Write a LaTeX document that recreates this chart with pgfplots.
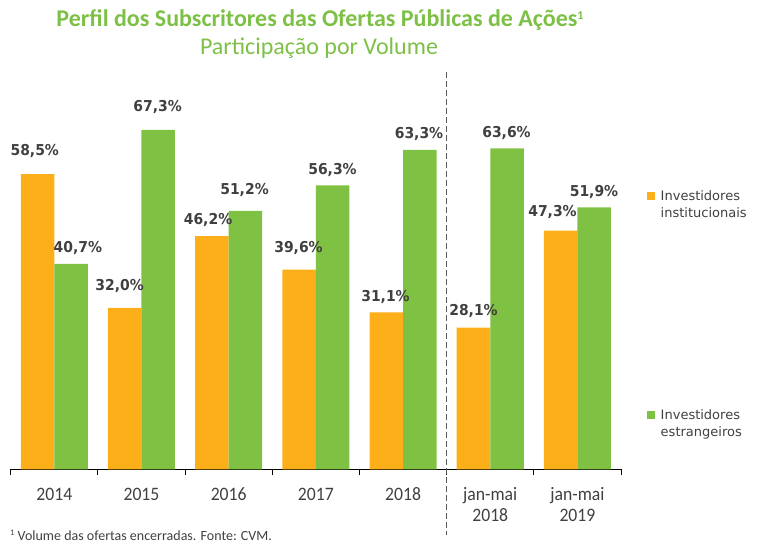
\documentclass[border=0pt]{standalone}
\usepackage{pgfplots}
\pgfplotsset{compat=1.18}
\usepackage{pgfplotstable}
\usepackage{fontspec}
\setmainfont{Carlito}
\newfontfamily\labf[FakeStretch=0.93]{DejaVu Sans}
\newfontfamily\tickf[FakeStretch=0.93]{Carlito}
\newfontfamily\legf{DejaVu Sans}
\definecolor{barorange}{RGB}{252,175,24}
\definecolor{bargreen}{RGB}{127,193,66}
\definecolor{titlegreen}{RGB}{125,192,70}
\definecolor{txtgray}{RGB}{64,64,64}
\definecolor{dashgray}{RGB}{89,89,89}

\pgfplotstableread{
x y xo yo
0 58.5 -2.8 19
1 32.0 -5.2 17
2 46.2 -3.9 11.3
3 39.6 -0.6 17
4 31.1 -0.8 11
5 28.1 0 11.6
6 47.3 -8.2 14.3
}\inst
\pgfplotstableread{
x y xo yo
0 40.7 6.8 11.7
1 67.3 -0.7 18.3
2 51.2 -0.9 16.7
3 56.3 -0.1 10.7
4 63.3 -0.8 11
5 63.6 -0.5 11.3
6 51.9 -0.2 11.3
}\estr

\begin{document}
\begin{tikzpicture}
\path[use as bounding box] (0,0) rectangle (779bp,549bp);
\begin{axis}[
  at={(10.7bp,79.7bp)}, anchor=south west,
  x=87.19bp, y=5.045bp,
  xmin=-0.5, xmax=6.5, ymin=0, ymax=75,
  enlargelimits=false, clip=false,
  axis y line=none, axis x line*=bottom,
  x axis line style={black, line width=0.8bp},
  ybar=0pt, bar width=33.5bp,
  xtick={0,...,6},
  xticklabels={\rule{0pt}{14bp}2014,\rule{0pt}{14bp}2015,\rule{0pt}{14bp}2016,\rule{0pt}{14bp}2017,\rule{0pt}{14bp}2018,\rule{0pt}{14bp}jan-mai\\2018,\rule{0pt}{14bp}jan-mai\\2019},
  xticklabel style={anchor=north, inner sep=0pt, outer sep=0pt, yshift=-17.4bp, align=center, font=\tickf\fontsize{19bp}{21bp}\selectfont, text=txtgray},
  major tick length=0pt,
  minor xtick={-0.5,0.5,...,6.5},
  minor tick length=5.5bp,
  tick align=outside,
  tick style={black, line width=0.8bp},
  legend image code/.code={\fill[#1] (0bp,-9.5bp) rectangle (8bp,-1.5bp);},
  legend style={at={(1.0426,0.7373)}, anchor=north west, draw=none, fill=none,
    inner sep=0pt, outer sep=0pt, row sep=192.6bp,
    font=\legf\fontsize{13bp}{17bp}\selectfont, text=txtgray,
    cells={anchor=north west, align=left},
    nodes={inner sep=0pt, text depth=},
    /tikz/every odd column/.append style={column sep=5.7bp}},
  nodes near coords={\pgfmathprintnumber[fixed, fixed zerofill, precision=1, use comma, assume math mode=true]{\pgfplotspointmeta}\%},
  nodes near coords style={font=\labf\bfseries\fontsize{15bp}{16bp}\selectfont, text=txtgray, inner sep=0pt, anchor=base, xshift=\xo bp, yshift=\yo bp},
  visualization depends on={\thisrow{xo}\as\xo},
  visualization depends on={\thisrow{yo}\as\yo},
]
\addplot[fill=barorange, draw=none] table[x=x, y=y] {\inst};
\addplot[fill=bargreen, draw=none] table[x=x, y=y] {\estr};
\legend{Investidores\\institucionais, Investidores\\estrangeiros}
\draw[dashgray, line width=1.5bp, dash pattern=on 6bp off 3bp] (axis cs:4.5,78.75) -- (axis cs:4.5,-13.02);
\end{axis}
\node[anchor=base, inner sep=0pt, text=titlegreen, font=\bfseries\fontsize{24bp}{28bp}\selectfont] at (320bp,522bp) {Perfil dos Subscritores das Ofertas Públicas de Ações\raisebox{7bp}{\fontsize{12bp}{12bp}\selectfont 1}};
\node[anchor=base, inner sep=0pt, text=titlegreen, font=\fontsize{24bp}{28bp}\selectfont] at (319bp,494bp) {Participação por Volume};
\node[anchor=base west, inner sep=0pt, text=txtgray, font=\fontsize{14bp}{16bp}\selectfont] at (10bp,9bp) {\raisebox{4.5bp}{\fontsize{8.5bp}{9bp}\selectfont 1}\ Volume das ofertas encerradas. Fonte: CVM.};
\end{tikzpicture}
\end{document}
